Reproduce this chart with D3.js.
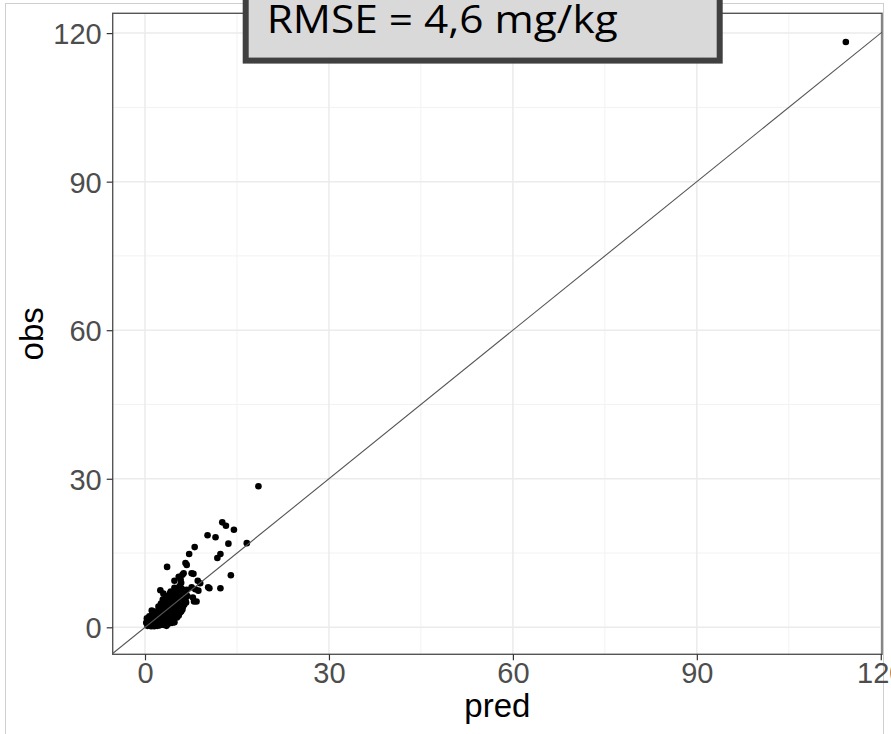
<!DOCTYPE html>
<html>
<head>
<meta charset="utf-8">
<script src="https://cdn.jsdelivr.net/npm/d3@7"></script>
<style>
  html, body { margin: 0; padding: 0; background: #fff; }
  svg { display: block; }
</style>
</head>
<body>
<svg id="chart" width="891" height="734"></svg>
<script>
// ---- data ----
const pred = [
  114.3, 18.5, 12.6, 13.2, 14.5, 10.2, 11.5, 13.6, 16.6, 8.1, 7.2, 12.3, 11.8,
  3.6, 6.6, 6.8, 14.0, 7.9, 5.5, 6.1, 5.8, 6.3, 4.8, 8.6, 10.5, 12.3, 7.6, 8.2,
  8.7, 5.7, 2.5, 8.4, 8.0, 9.0, 4.1, 7.6, 10.3,
  0.4, 0.6, 0.8, 1.0, 1.1, 1.2, 1.3, 1.4, 1.5, 1.6, 1.7, 1.8, 1.9, 2.0, 2.0, 2.1,
  2.2, 2.3, 2.3, 2.4, 2.5, 2.6, 2.7, 2.8, 2.8, 2.9, 3.0, 3.0, 3.1, 3.2, 3.3, 3.4,
  3.4, 3.5, 3.6, 3.7, 3.7, 3.8, 3.9, 4.0, 4.0, 4.1, 4.2, 4.3, 4.4, 4.5, 4.6, 4.6,
  4.7, 4.8, 4.9, 5.0, 5.0, 4.8, 5.2, 5.3, 5.4, 5.5, 5.5, 5.7, 5.8, 5.9, 6.0, 6.1,
  5.5, 6.3, 6.4, 6.0, 6.6, 6.4, 6.6, 6.7, 1.2, 0.9, 0.5, 1.6, 2.2, 2.6, 3.2, 1.0,
  2.0, 3.0, 3.8, 4.4, 2.5, 4.2, 3.6, 5.6, 6.8, 4.8, 5.9, 7.8, 1.4, 1.8, 0.7, 0.3,
  3.5, 2.7, 1.5, 4.5, 5.2, 5.7, 1.6, 2.4, 3.3, 4.0, 0.2, 1.1, 2.1, 3.1,
  5.1, 5.6, 6.2, 6.5, 4.4, 5.3, 6.1, 3.0, 2.9, 4.9, 5.8, 6.9
];
const obs = [
  118.2, 28.5, 21.2, 20.5, 19.7, 18.6, 18.2, 16.9, 17.0, 16.2, 14.8, 14.8, 14.0,
  12.2, 13.0, 12.6, 10.5, 10.8, 10.2, 10.6, 9.7, 10.9, 9.4, 9.4, 7.9, 7.9, 8.1, 7.7,
  7.4, 8.4, 7.5, 5.2, 5.2, 8.9, 6.9, 10.9, 8.1,
  0.3, 0.8, 0.5, 1.2, 0.4, 0.9, 1.8, 0.6, 1.3, 2.2, 0.8, 1.5, 0.5, 2.6, 1.1, 1.8,
  0.7, 3.1, 2.2, 1.4, 0.9, 2.7, 1.9, 3.6, 1.2, 2.4, 0.8, 4.1, 3.0, 1.6, 2.2, 4.7,
  3.5, 1.1, 2.8, 5.3, 4.0, 1.9, 3.3, 6.0, 2.5, 4.5, 1.4, 3.7, 5.2, 2.9, 6.4, 4.2,
  2.1, 5.6, 3.4, 7.0, 4.8, 1.0, 6.1, 3.9, 2.6, 7.4, 5.3, 4.4, 6.6, 3.2, 7.8, 5.7,
  2.4, 4.9, 6.9, 3.8, 5.5, 4.6, 6.2, 5.0, 2.6, 1.6, 1.4, 3.2, 4.2, 4.8, 5.6, 0.2,
  0.3, 0.5, 0.7, 0.9, 3.8, 7.2, 6.3, 8.2, 7.6, 8.0, 9.0, 6.0, 2.0, 2.8, 2.2, 1.8,
  0.3, 0.6, 0.2, 1.5, 2.0, 3.0, 0.6, 0.4, 1.3, 1.0, 0.9, 3.4, 3.2, 2.0,
  3.5, 4.6, 4.2, 5.8, 2.4, 2.3, 3.6, 6.8, 5.6, 6.5, 7.1, 6.3
];
const xTicks = [0, 30, 60, 90, 120];
const yTicks = [0, 30, 60, 90, 120];
const minorTicks = [15, 45, 75, 105];
const xTitle = "pred";
const yTitle = "obs";
const boxLabel = "RMSE = 4,6 mg/kg";
const xDomain = [-5.27, 120.2];
const yDomain = [-5.45, 124.0];

// ---- layout ----
const svg = d3.select("#chart");
const P = { left: 112.7, right: 882, top: 13.3, bottom: 654.3 };

const x = d3.scaleLinear().domain(xDomain).range([P.left, P.right]);
const y = d3.scaleLinear().domain(yDomain).range([P.bottom, P.top]);

// outer light frame (screenshot border)
svg.append("rect")
  .attr("x", 5.5).attr("y", 3.5).attr("width", 878).attr("height", 760)
  .attr("fill", "none").attr("stroke", "#cfcfcf").attr("stroke-width", 1);

// panel background
svg.append("rect")
  .attr("x", P.left).attr("y", P.top)
  .attr("width", P.right - P.left).attr("height", P.bottom - P.top)
  .attr("fill", "#fff");

const grid = svg.append("g");
// minor grid
minorTicks.forEach(v => {
  grid.append("line").attr("x1", x(v)).attr("x2", x(v)).attr("y1", P.top).attr("y2", P.bottom)
    .attr("stroke", "#f2f2f2").attr("stroke-width", 1);
  grid.append("line").attr("y1", y(v)).attr("y2", y(v)).attr("x1", P.left).attr("x2", P.right)
    .attr("stroke", "#f2f2f2").attr("stroke-width", 1);
});
// major grid
xTicks.forEach(v => {
  grid.append("line").attr("x1", x(v)).attr("x2", x(v)).attr("y1", P.top).attr("y2", P.bottom)
    .attr("stroke", "#ebebeb").attr("stroke-width", 1.5);
});
yTicks.forEach(v => {
  grid.append("line").attr("y1", y(v)).attr("y2", y(v)).attr("x1", P.left).attr("x2", P.right)
    .attr("stroke", "#ebebeb").attr("stroke-width", 1.5);
});

// clip for panel
svg.append("clipPath").attr("id", "clip").append("rect")
  .attr("x", P.left).attr("y", P.top)
  .attr("width", P.right - P.left).attr("height", P.bottom - P.top);

const plot = svg.append("g").attr("clip-path", "url(#clip)");

// points
plot.selectAll("circle").data(pred.map((p, i) => [p, obs[i]])).join("circle")
  .attr("cx", d => x(d[0])).attr("cy", d => y(d[1])).attr("r", 3.3)
  .attr("fill", "#000");

// y = x line
const lo = Math.min(xDomain[0], yDomain[0]), hi = Math.max(xDomain[1], yDomain[1]);
plot.append("line")
  .attr("x1", x(lo)).attr("y1", y(lo)).attr("x2", x(hi)).attr("y2", y(hi))
  .attr("stroke", "#555").attr("stroke-width", 1.1);

// panel border
svg.append("rect")
  .attr("x", P.left).attr("y", P.top)
  .attr("width", P.right - P.left).attr("height", P.bottom - P.top)
  .attr("fill", "none").attr("stroke", "#555").attr("stroke-width", 1.4);

// axes
const xAxis = d3.axisBottom(x).tickValues(xTicks).tickSize(6).tickPadding(4);
const yAxis = d3.axisLeft(y).tickValues(yTicks).tickSize(6).tickPadding(4);

const gx = svg.append("g").attr("transform", `translate(0,${P.bottom})`).call(xAxis);
const gy = svg.append("g").attr("transform", `translate(${P.left},0)`).call(yAxis);
[gx, gy].forEach(g => {
  g.select(".domain").remove();
  g.selectAll(".tick line").attr("stroke", "#333").attr("stroke-width", 1.2);
  g.selectAll(".tick text")
    .attr("fill", "#4d4d4d")
    .style("font-family", "'Liberation Sans', Arial, sans-serif")
    .style("font-size", "29px");
});
gx.selectAll(".tick text").attr("dy", null).attr("y", 28.5);
gy.selectAll(".tick text").attr("x", -11).attr("dy", "0.36em");

// axis titles
svg.append("text")
  .attr("x", (P.left + P.right) / 2).attr("y", 717)
  .attr("text-anchor", "middle")
  .style("font-family", "'Liberation Sans', Arial, sans-serif")
  .style("font-size", "33px").attr("fill", "#000")
  .text(xTitle);
svg.append("text")
  .attr("transform", `translate(43,${(P.top + P.bottom) / 2}) rotate(-90)`)
  .attr("text-anchor", "middle")
  .style("font-family", "'Liberation Sans', Arial, sans-serif")
  .style("font-size", "33px").attr("fill", "#000")
  .text(yTitle);

// RMSE annotation box
svg.append("rect")
  .attr("x", 245.7).attr("y", -20).attr("width", 474).attr("height", 80.6)
  .attr("fill", "#d9d9d9").attr("stroke", "#404040").attr("stroke-width", 6);
svg.append("text")
  .attr("x", 266.7).attr("y", 33.3)
  .attr("textLength", 351).attr("lengthAdjust", "spacingAndGlyphs")
  .style("font-family", "'Open Sans', 'Noto Sans', sans-serif")
  .style("font-size", "39px").attr("fill", "#000")
  .text(boxLabel);
</script>
</body>
</html>
